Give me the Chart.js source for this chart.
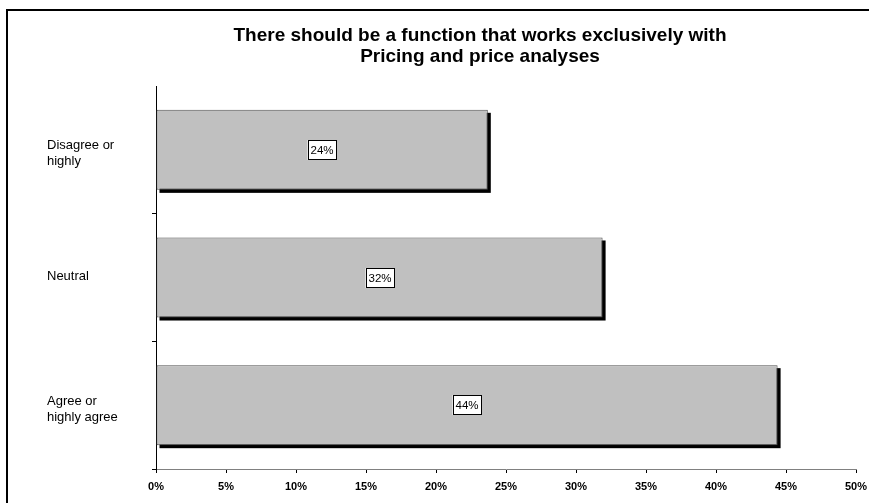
<!DOCTYPE html>
<html><head><meta charset="utf-8">
<script src="https://cdn.jsdelivr.net/npm/chart.js@4.4.1/dist/chart.umd.min.js"></script>
<style>html,body{margin:0;padding:0;background:#fff}canvas{display:block}</style>
</head><body>
<canvas id="c" width="869" height="503"></canvas>
<script>
const titleLines = ["There should be a function that works exclusively with", "Pricing and price analyses"];
const categories = [["Disagree or", "highly"], ["Neutral"], ["Agree or", "highly agree"]];
const values = [23.7, 31.9, 44.4];
const valueLabels = ["24%", "32%", "44%"];
const xMin = 0, xMax = 50, xStep = 5;

const FONT = '"Liberation Sans", Arial, sans-serif';

const decorPlugin = {
  id: 'decor',
  beforeDatasetsDraw(chart) {
    const ctx = chart.ctx;
    const meta = chart.getDatasetMeta(0);
    ctx.save();
    ctx.fillStyle = '#000';
    meta.data.forEach(el => {
      const p = el.getProps(['x', 'y', 'base', 'height'], true);
      ctx.fillRect(p.base + 3, p.y - p.height / 2 + 3, p.x - p.base, p.height);
    });
    ctx.restore();
  },
  afterDatasetsDraw(chart) {
    const ctx = chart.ctx;
    const meta = chart.getDatasetMeta(0);
    ctx.save();
    ctx.font = '11.5px ' + FONT;
    ctx.textAlign = 'center';
    ctx.textBaseline = 'middle';
    meta.data.forEach((el, i) => {
      const p = el.getProps(['x', 'y', 'base', 'height'], true);
      const cx = Math.round((p.x + p.base) / 2);
      const cy = Math.round(p.y);
      const txt = valueLabels[i];
      const w = Math.round(ctx.measureText(txt).width) + 6;
      const h = 20;
      ctx.fillStyle = '#fff';
      ctx.fillRect(cx - w / 2, cy - h / 2, w, h);
      ctx.strokeStyle = '#000';
      ctx.lineWidth = 1;
      ctx.strokeRect(Math.round(cx - w / 2) + 0.5, cy - h / 2 + 0.5, w - 1, h - 1);
      ctx.fillStyle = '#000';
      ctx.fillText(txt, cx, cy + 1);
    });
    ctx.restore();
  },
  afterDraw(chart) {
    const ctx = chart.ctx;
    const ys = chart.scales.y;
    ctx.save();
    ctx.fillStyle = '#000';
    ctx.fillRect(6, 9, 863, 2);
    ctx.fillRect(6, 9, 2, 494);
    ctx.font = 'bold 19px ' + FONT;
    ctx.textAlign = 'center';
    ctx.textBaseline = 'middle';
    titleLines.forEach((t, i) => ctx.fillText(t, 480, 36 + i * 21));
    // category labels, left aligned at the scale's left edge
    ctx.font = '13px ' + FONT;
    ctx.textAlign = 'left';
    categories.forEach((lines, i) => {
      const yc = ys.getPixelForValue(i);
      const n = lines.length;
      const start = yc - (n - 1) * 16 / 2 + (n > 1 ? 4 : -1);
      lines.forEach((ln, j) => ctx.fillText(ln, ys.left, start + j * 16));
    });
    ctx.restore();
  }
};

new Chart(document.getElementById('c'), {
  type: 'bar',
  data: {
    labels: categories,
    datasets: [{
      data: values,
      backgroundColor: '#C0C0C0',
      borderColor: '#505050',
      borderWidth: 1,
      borderSkipped: false,
      categoryPercentage: 1,
      barPercentage: 0.627
    }]
  },
  options: {
    indexAxis: 'y',
    responsive: false,
    animation: false,
    devicePixelRatio: 1,
    layout: { padding: { left: 47, right: 13, top: 86, bottom: 0 } },
    plugins: { legend: { display: false }, title: { display: false }, tooltip: { enabled: false } },
    scales: {
      x: {
        min: xMin, max: xMax,
        afterFit(s) { s.height = 34; s.paddingLeft = 0; s.paddingRight = 0; },
        ticks: {
          stepSize: xStep,
          callback: v => v + '%',
          font: { family: FONT, size: 11, weight: 'bold' },
          color: '#000',
          padding: 7,
          maxRotation: 0,
          autoSkip: false
        },
        grid: { drawOnChartArea: false, drawTicks: true, tickLength: 4, color: '#000' },
        border: { color: '#808080', width: 1 }
      },
      y: {
        afterFit(s) { s.width = 109; s.paddingTop = 0; s.paddingBottom = 0; },
        ticks: { display: false },
        grid: {
          drawOnChartArea: false, drawTicks: true, tickLength: 4, offset: true,
          color: ctx => (ctx.index === 0 ? 'rgba(0,0,0,0)' : '#000')
        },
        border: { color: '#000', width: 1 }
      }
    }
  },
  plugins: [decorPlugin]
});
</script>
</body></html>
